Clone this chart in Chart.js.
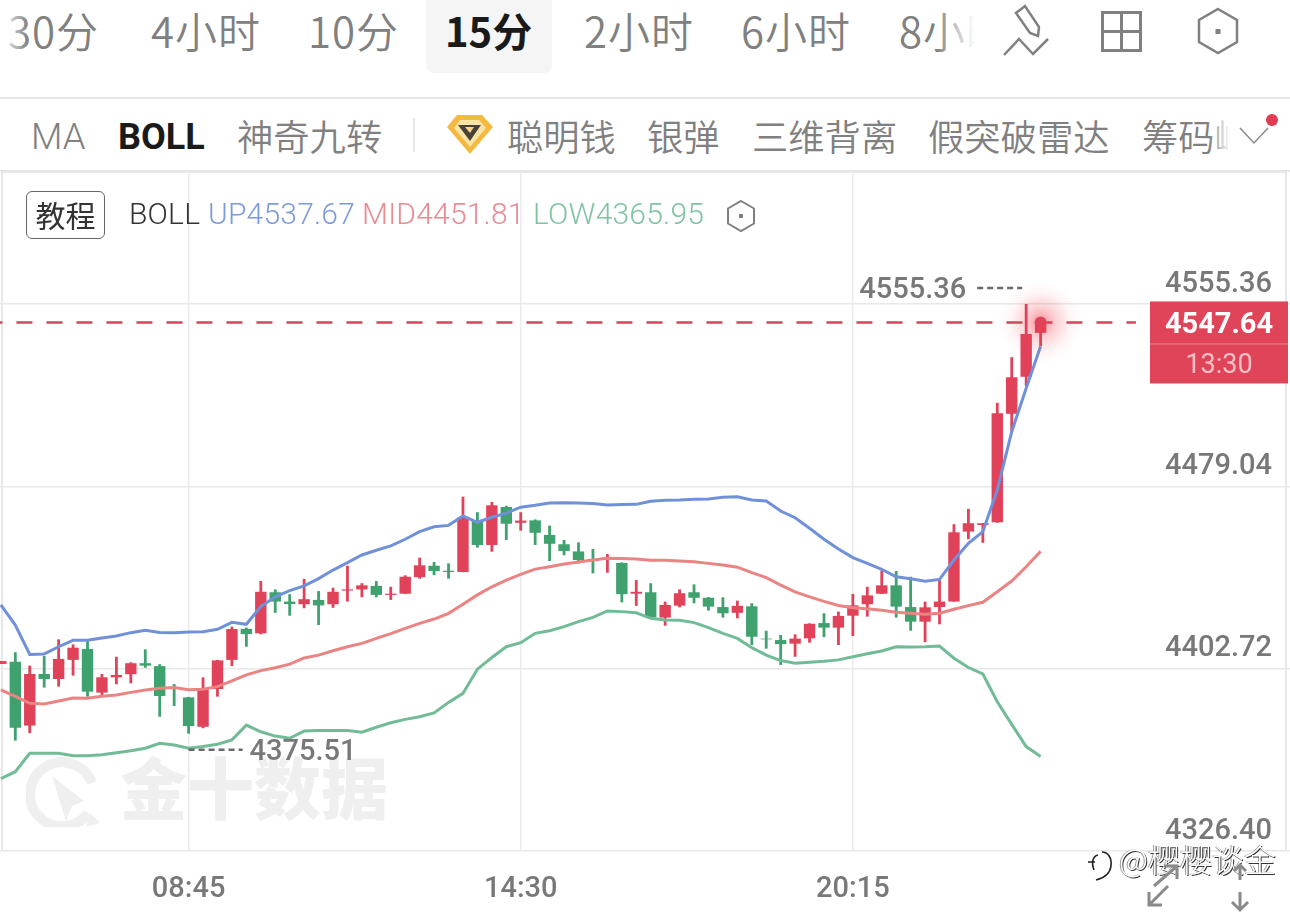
<!DOCTYPE html>
<html lang="zh">
<head>
<meta charset="UTF-8">
<title>BOLL 15分</title>
<style>
  html,body { margin:0;padding:0;background:#fff; }
  #page { position:relative; width:1290px; height:913px; overflow:hidden; font-family:'Noto Sans CJK SC',sans-serif; color:#808080; }
  #page > * { position:absolute; }
  .t { white-space:nowrap; font-size:42px; line-height:60px; top:0; font-weight:350; letter-spacing:1px; }
  .b { white-space:nowrap; font-size:36.3px; line-height:56px; top:107px; font-weight:350; }
  .lg { white-space:nowrap; top:192px; font:300 30px/44px Roboto,sans-serif; letter-spacing:.2px; }
  #chartBox { left:0; top:172px; width:1290px; height:741px; }
  #frame { left:1px; top:171px; width:1286px; height:680px; border:solid #e8e8e8; border-width:2px 2px 0 2px; box-sizing:border-box; }
  #wm { left:120px; top:741px; font-size:67px; line-height:88px; font-weight:900; color:#efefef; white-space:nowrap; }
  #weibo { left:1119px; top:836px; font-size:32px; line-height:44px; color:#fff; white-space:nowrap; font-weight:300;
    text-shadow:1px 1px 0 #333,-1px 0 0 #999; }
</style>
</head>
<body>
<div id="page">
  <div style="left:426px;top:0;width:126px;height:73px;background:#f5f5f5;border-radius:0 0 8px 8px"></div>
  <span class="t" style="left:8px">30分</span>
  <span class="t" style="left:151px">4小时</span>
  <span class="t" style="left:308px">10分</span>
  <span class="t" style="left:445px;color:#1a1a1a;font-weight:700;font-size:40px;letter-spacing:0">15分</span>
  <span class="t" style="left:584px">2小时</span>
  <span class="t" style="left:741px">6小时</span>
  <span class="t" style="left:899px">8小时</span>
  <div style="left:0;top:0;width:28px;height:70px;background:linear-gradient(90deg,#fff,rgba(255,255,255,0))"></div>
  <div style="left:935px;top:0;width:80px;height:70px;background:linear-gradient(90deg,rgba(255,255,255,0),#fff 50%)"></div>

  <svg style="left:1000px;top:0" width="60" height="60" fill="none" stroke="#808080" stroke-width="2.5">
    <path d="M16 13 L25 6 L39 27 L38 36 L30 33 Z"/>
    <path d="M4 55 L19 39 L33 54 L48 39"/>
  </svg>
  <svg style="left:1100px;top:10px" width="44" height="44" fill="none" stroke="#808080" stroke-width="3">
    <rect x="2.5" y="2.5" width="38" height="38"/><path d="M21.5 2.5V40.5M2.5 21.5H40.5"/>
  </svg>
  <svg style="left:1196px;top:7px" width="44" height="48" fill="none" stroke="#808080" stroke-width="2.5">
    <path d="M22 2 L41 13 V35 L22 46 L3 35 V13 Z"/><rect x="19.5" y="22" width="5" height="5" fill="#808080" stroke="none"/>
  </svg>

  <div style="left:0;top:97px;width:1290px;height:2px;background:#e6e6e6"></div>

  <span class="b" style="left:31px;top:109px;font-family:Roboto,sans-serif;font-weight:300">MA</span>
  <span class="b" style="left:118px;top:109px;color:#1a1a1a;font-family:Roboto,sans-serif;font-weight:700;font-size:36px">BOLL</span>
  <span class="b" style="left:237px">神奇九转</span>
  <div style="left:413px;top:118px;width:2px;height:34px;background:#e6e6e6"></div>
  <svg style="left:446px;top:114px" width="48" height="40">
    <path d="M11 1 H36 L47 13 L24 40 L1 13 Z" fill="#f5b93f"/>
    <path d="M14 6 H33 L40 14 L24 33 L8 14 Z" fill="#fbe3a6"/>
    <path d="M12 11 H35 L24 27 Z" fill="#4a4236"/>
    <path d="M19 13 H28 L24 19 Z" fill="#f7d98c"/>
  </svg>
  <span class="b" style="left:507px">聪明钱</span>
  <span class="b" style="left:647px">银弹</span>
  <span class="b" style="left:752px">三维背离</span>
  <span class="b" style="left:928px">假突破雷达</span>
  <span class="b" style="left:1142px">筹码峰</span>
  <div style="left:1200px;top:109px;width:60px;height:56px;background:linear-gradient(90deg,rgba(255,255,255,0) 15%,#fff 50%)"></div>
  <svg style="left:1236px;top:108px" width="50" height="40" fill="none" stroke="#8a8a8a" stroke-width="1.5">
    <path d="M4 20 L18 35 L32 20"/><circle cx="36" cy="12" r="6" fill="#e23c52" stroke="none"/>
  </svg>

  <div style="left:0;top:170px;width:1290px;height:2px;background:#e6e6e6"></div>
  <div id="frame"></div>

  <div id="wm">金十数据</div>
  <svg style="left:26px;top:755px" width="76" height="72" fill="none">
    <path d="M62 58 A32 32 0 1 1 66 28" stroke="#efefef" stroke-width="10"/>
    <path d="M26 21 L58 46 L46 51 L40 66 Z" fill="#efefef"/>
    <path d="M64 58 L74 68 L60 72 Z" fill="#efefef"/>
  </svg>

  <div id="chartBox"><canvas id="kline" width="1290" height="741"></canvas></div>

  <div style="left:26px;top:191px;width:79px;height:48px;box-sizing:border-box;border:1.5px solid #666;border-radius:6px;text-align:center;font-size:30px;line-height:44px;color:#333;font-weight:400">教程</div>
  <span class="lg" style="left:129px;color:#333">BOLL</span>
  <span class="lg" style="left:208px;color:#7c9adb">UP4537.67</span>
  <span class="lg" style="left:362px;color:#e98b93">MID4451.81</span>
  <span class="lg" style="left:533px;color:#7fc3a2">LOW4365.95</span>
  <svg style="left:726px;top:199px" width="30" height="34" fill="none" stroke="#808080" stroke-width="2">
    <path d="M15 2 L28 9.5 V24.5 L15 32 L2 24.5 V9.5 Z"/><rect x="13" y="15" width="4" height="4" fill="#808080" stroke="none"/>
  </svg>

  <div id="weibo">@樱樱谈金</div>
  <svg style="left:1084px;top:848px" width="32" height="36" fill="none" stroke="#222" stroke-width="1.6">
    <path d="M18 4 C24 4 28 10 27 18 C26 26 20 30 12 32"/><path d="M10 22 C7 14 9 8 14 7 M4 14 H11"/>
  </svg>
  <svg style="left:1140px;top:862px" width="130" height="51" fill="none" stroke="#8a8a8a" stroke-width="3">
    <path d="M14 24 L36 5 M24 4 H37 V17"/>
    <path d="M28 24 L10 42 M9 30 V43 H22"/>
    <path d="M100 3 V18 M94 9 L100 3 L106 9"/>
    <path d="M100 30 V47 M92 40 L100 48 L108 40"/>
  </svg>
</div>

<script src="https://cdn.jsdelivr.net/npm/chart.js"></script>
<script>
// first entry is the candle cut off by the left edge
const opens = [4404.7,4405.6,4378.9,4400.5,4398.4,4406.4,4411.0,4392.7,4399.1,4400.4,4405.0,4403.8,4394.9,4390.7,4378.4,4394.2,4406.4,4419.4,4417.5,4434.7,4430.8,4429.7,4431.5,4429.7,4435.4,4435.9,4437.4,4433.6,4434.1,4441.0,4445.8,4443.7,4443.2,4464.9,4454.5,4470.4,4463.8,4464.8,4458.7,4454.8,4451.8,4448.5,4448.8,4447.0,4434.1,4434.7,4424.1,4429.1,4434.7,4432.4,4428.5,4426.1,4428.8,4415.3,4414.7,4413.2,4415.4,4421.8,4419.9,4424.9,4429.7,4434.1,4437.6,4428.5,4422.4,4428.5,4430.8,4460.1,4462.9,4464.0,4509.4,4524.9,4543.3];
const closes = [4405.9,4378.0,4400.5,4398.4,4406.8,4411.5,4393.1,4399.1,4400.1,4405.0,4404.0,4391.3,4394.5,4378.7,4394.1,4406.2,4419.3,4417.2,4434.9,4430.8,4429.8,4431.8,4429.2,4434.9,4435.9,4437.6,4433.6,4434.1,4441.2,4446.0,4443.6,4443.2,4466.1,4454.5,4471.1,4463.4,4464.7,4459.6,4455.0,4452.0,4448.2,4447.9,4449.3,4433.9,4434.9,4424.2,4429.4,4434.3,4432.4,4428.7,4425.9,4429.0,4416.1,4415.0,4413.0,4415.3,4421.5,4419.9,4424.8,4429.2,4433.4,4437.6,4428.7,4422.4,4428.4,4430.8,4459.8,4463.6,4463.6,4509.6,4524.7,4542.8,4547.64];
const highs = [4405.9,4409.6,4404.0,4408.0,4415.0,4412.9,4414.3,4400.5,4407.7,4405.4,4410.8,4404.6,4396.3,4390.9,4399.1,4406.4,4420.3,4419.9,4439.4,4435.9,4433.9,4440.3,4435.2,4436.6,4445.8,4438.5,4439.4,4437.0,4441.8,4449.2,4447.4,4446.8,4474.7,4468.2,4472.5,4470.9,4468.2,4465.2,4462.6,4456.6,4455.6,4452.8,4450.7,4447.2,4439.8,4438.5,4430.8,4435.9,4438.0,4432.7,4432.6,4431.2,4430.1,4418.6,4416.8,4417.1,4421.7,4425.9,4426.6,4434.0,4437.0,4443.7,4443.6,4441.2,4430.8,4439.8,4463.2,4469.6,4463.7,4514.0,4533.1,4555.36,4547.64];
const lows = [4404.7,4372.6,4375.7,4394.8,4395.2,4399.8,4391.0,4391.7,4396.2,4396.6,4403.1,4382.6,4387.1,4375.51,4377.8,4391.0,4403.8,4411.9,4417.1,4426.1,4424.9,4428.0,4421.0,4428.2,4430.8,4432.6,4432.6,4431.5,4434.0,4440.4,4441.9,4440.4,4443.1,4453.4,4451.7,4456.6,4460.5,4454.5,4447.8,4450.2,4446.8,4442.6,4442.9,4430.5,4429.0,4424.1,4420.7,4428.4,4430.1,4427.0,4424.1,4423.8,4412.6,4411.1,4404.3,4407.7,4413.6,4415.9,4412.6,4416.4,4424.5,4434.0,4424.1,4418.6,4413.8,4421.3,4430.8,4456.9,4455.4,4463.8,4501.9,4521.0,4537.8];

const bollUp = [4429.4,4421.0,4408.7,4408.9,4411.9,4414.6,4414.6,4415.6,4416.4,4417.8,4418.8,4417.9,4417.8,4418.1,4418.2,4419.2,4422.1,4421.3,4428.7,4432.8,4435.4,4437.4,4440.4,4444.0,4447.1,4450.3,4452.3,4454.1,4456.9,4460.1,4462.1,4462.7,4466.6,4464.0,4466.1,4467.8,4470.3,4471.1,4472.1,4472.2,4472.1,4471.9,4471.2,4471.4,4471.5,4472.8,4473.2,4473.3,4473.6,4473.7,4474.5,4474.7,4473.3,4472.9,4468.7,4465.9,4461.5,4456.9,4452.8,4449.2,4446.8,4444.3,4441.2,4440.4,4439.3,4440.1,4448.2,4455.2,4460.1,4477.5,4501.9,4520.1,4537.67];
const bollMid = [4393.8,4391.1,4388.2,4387.9,4389.2,4390.4,4390.3,4391.2,4391.7,4392.8,4393.8,4394.5,4394.8,4393.9,4394.1,4395.2,4397.6,4400.1,4401.9,4403.1,4404.6,4407.2,4408.4,4410.2,4411.9,4413.3,4415.4,4417.4,4419.6,4421.7,4423.5,4425.9,4429.7,4433.6,4437.0,4439.8,4442.2,4444.4,4445.4,4446.5,4447.4,4448.2,4448.9,4448.8,4448.6,4448.1,4448.1,4447.8,4447.5,4446.8,4446.1,4445.2,4442.9,4440.8,4437.7,4434.9,4432.8,4430.9,4429.2,4428.2,4427.8,4427.2,4426.3,4425.9,4425.5,4425.9,4427.6,4429.1,4430.5,4434.9,4439.4,4445.4,4451.81];
const bollLow = [4356.7,4359.6,4367.3,4367.3,4367.3,4366.3,4366.3,4366.7,4367.5,4368.4,4369.4,4371.5,4370.8,4369.4,4370.1,4371.1,4372.9,4379.1,4376.3,4374.5,4373.6,4376.6,4376.8,4376.8,4376.8,4376.1,4378.2,4380.1,4381.5,4382.6,4384.2,4388.6,4392.4,4402.5,4407.4,4411.9,4413.6,4417.5,4418.6,4420.3,4422.4,4424.2,4426.9,4426.6,4426.1,4423.8,4423.1,4423.0,4422.0,4419.9,4417.5,4415.4,4411.5,4408.4,4406.1,4405.0,4405.4,4405.8,4406.4,4407.7,4409.0,4410.1,4411.9,4411.8,4411.9,4412.2,4407.1,4403.2,4400.5,4388.9,4379.4,4370.1,4365.95];

const priceTicks = [4326.40,4402.72,4479.04,4555.36];
const timeIndexes = [13,36,59];
const timeLabels = ['08:45','14:30','20:15'];
const lastPrice = 4547.64;
const countdown = '13:30';
const maxPrice = 4555.36, maxIndex = 71;
const minPrice = 4375.51, minIndex = 13;

const RED='#e0425a', GREEN='#3fa16d', TICK='#787878';
const LABEL_FONT='500 29px Roboto,sans-serif';
const xs = opens.map((_,i)=>i);
const candleColor = opens.map((o,i)=> closes[i]>=o ? RED : GREEN);
const toLine = arr => arr.map((v,i)=>({x:i,y:v}));

// labels, price tag and the glowing dot, all placed from the scales
const overlay = {
  id:'overlay',
  afterDatasetsDraw(chart){
    const {ctx,scales:{x,y}} = chart;
    const px=x.getPixelForValue(xs[xs.length-1]), py=y.getPixelForValue(lastPrice);
    ctx.save();
    const glow=ctx.createRadialGradient(px,py,2,px,py,42);
    glow.addColorStop(0,'rgba(240,60,75,.5)');
    glow.addColorStop(.35,'rgba(240,60,75,.22)');
    glow.addColorStop(.7,'rgba(240,60,75,.05)');
    glow.addColorStop(1,'rgba(240,60,75,0)');
    ctx.fillStyle=glow;
    ctx.beginPath();ctx.arc(px,py,42,0,Math.PI*2);ctx.fill();
    ctx.fillStyle=RED;
    ctx.beginPath();ctx.arc(px,py,6,0,Math.PI*2);ctx.fill();

    // price tag
    const tagL=1150,tagR=1288;
    ctx.fillStyle='#e04458';
    ctx.fillRect(tagL,py-21,tagR-tagL,82);
    ctx.fillStyle='rgba(255,255,255,.35)';
    ctx.fillRect(tagL,py+21,tagR-tagL,1);
    ctx.textAlign='center';ctx.textBaseline='middle';
    ctx.font='700 29px Roboto,sans-serif';
    ctx.fillStyle='#fff';
    ctx.fillText(lastPrice.toFixed(2),(tagL+tagR)/2,py+3);
    ctx.font='400 27px Roboto,sans-serif';
    ctx.fillStyle='#f7c0c6';
    ctx.fillText(countdown,(tagL+tagR)/2,py+44);

    // high and low markers
    ctx.font=LABEL_FONT;
    ctx.fillStyle=TICK;ctx.strokeStyle='#6a6a6a';ctx.lineWidth=2.4;ctx.setLineDash([6,4]);
    const hx=x.getPixelForValue(maxIndex), hy=y.getPixelForValue(maxPrice)-16;
    ctx.textAlign='right';
    ctx.fillText(maxPrice.toFixed(2),hx-60,hy+3);
    ctx.beginPath();ctx.moveTo(hx-49,hy);ctx.lineTo(hx-4,hy);ctx.stroke();
    const lx=x.getPixelForValue(minIndex), ly=y.getPixelForValue(minPrice)+16;
    ctx.textAlign='left';
    ctx.fillText(minPrice.toFixed(2),lx+61,ly+3);
    ctx.beginPath();ctx.moveTo(lx,ly);ctx.lineTo(lx+54,ly);ctx.stroke();
    ctx.restore();
  }
};

const boll = (label,data,color)=>({type:'line',label,data:toLine(data),borderColor:color,borderWidth:3,pointRadius:0,tension:0,order:1});

new Chart(document.getElementById('kline'),{
  data:{datasets:[
    boll('UP',bollUp,'#7091d9'),
    boll('MID',bollMid,'#ec8383'),
    boll('LOW',bollLow,'#72bb97'),
    {type:'line',label:'last',data:[{x:-1,y:lastPrice},{x:78.6,y:lastPrice}],borderColor:'#cc4a5c',borderWidth:2.6,borderDash:[16,14],pointRadius:0,order:0},
    {type:'bar',label:'wick',data:xs.map(i=>({x:i,y:[lows[i],highs[i]]})),backgroundColor:candleColor,barThickness:2.8,grouped:false,inflateAmount:0,order:3},
    {type:'bar',label:'body',data:xs.map(i=>({x:i,y:[opens[i],closes[i]]})),backgroundColor:candleColor,barThickness:11.4,grouped:false,inflateAmount:0,order:2}
  ]},
  plugins:[overlay],
  options:{
    responsive:false,animation:false,
    layout:{padding:0},
    plugins:{legend:{display:false},tooltip:{enabled:false}},
    scales:{
      x:{type:'linear',offset:false,min:-0.06,max:89.27,
        afterBuildTicks(s){s.ticks=timeIndexes.map(v=>({value:v}));},
        afterFit(s){s.height=62;s.paddingLeft=0;s.paddingRight=0;},
        border:{display:false},
        grid:{offset:false,color:'#ececec',lineWidth:1.5,drawTicks:false},
        ticks:{autoSkip:false,maxRotation:0,padding:21,color:TICK,font:{family:'Roboto,sans-serif',size:29,weight:'500'},
          callback:v=>timeLabels[timeIndexes.indexOf(v)]}},
      y:{position:'right',min:4326.40,max:4610.62,
        afterBuildTicks(s){s.ticks=priceTicks.map(v=>({value:v}));},
        afterFit(s){s.width=0;s.paddingTop=0;s.paddingBottom=0;},
        border:{display:false},
        grid:{color:'#e8e8e8',lineWidth:1.5,drawTicks:false},
        ticks:{mirror:true,padding:-18,labelOffset:-19.5,color:TICK,autoSkip:false,font:{family:'Roboto,sans-serif',size:29,weight:'500'},
          callback:v=>v.toFixed(2)}}
    }
  }
});
</script>
</body>
</html>
